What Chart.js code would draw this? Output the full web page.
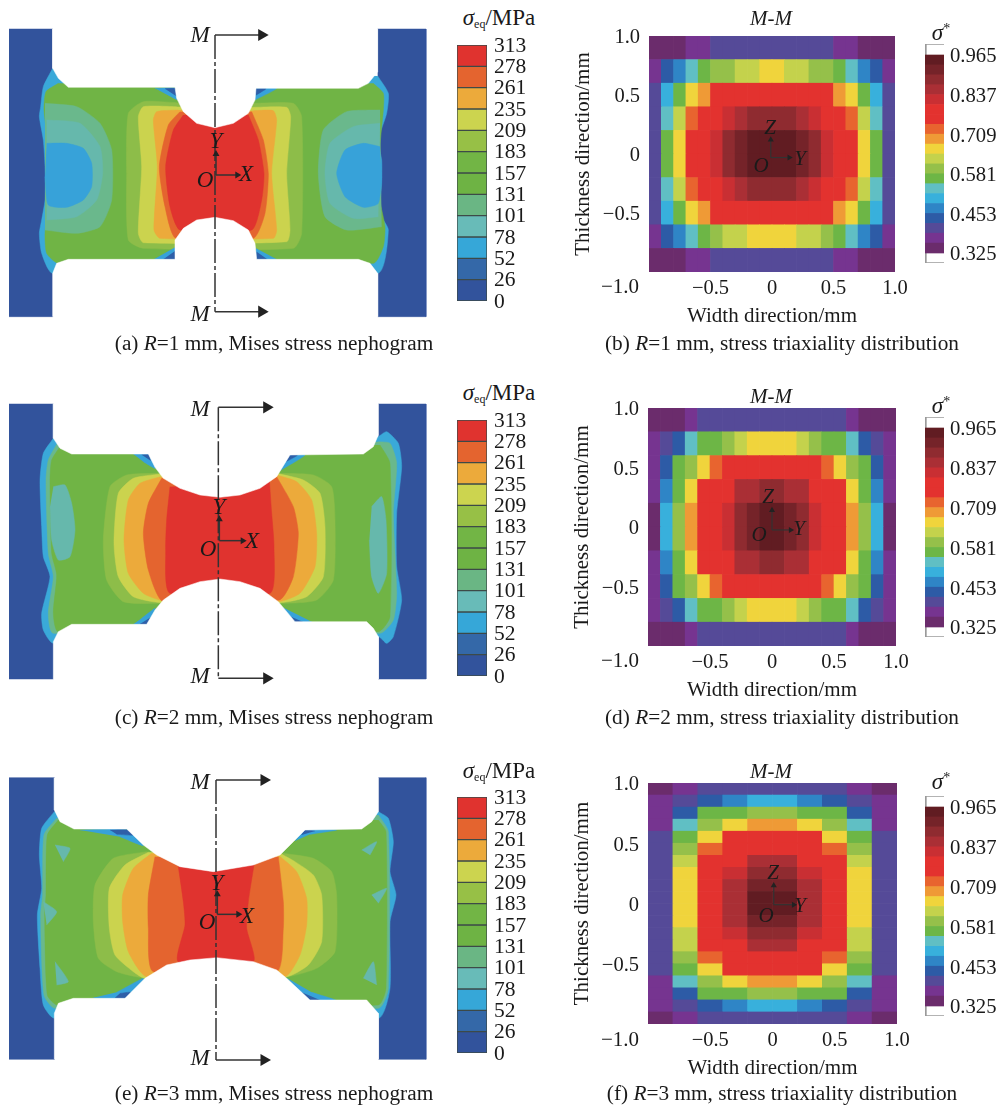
<!DOCTYPE html>
<html>
<head>
<meta charset="utf-8">
<script src="https://cdn.jsdelivr.net/npm/chart.js@4"></script>
<style>
  html, body { margin: 0; padding: 0; background: #fff; }
  #page { position: relative; width: 1002px; height: 1113px; overflow: hidden; font-family: "Liberation Serif", serif; color: #1a1a1a; }
  canvas { position: absolute; filter: blur(0.4px); }
  .note { position: absolute; transform: translate(-50%, -50%); white-space: nowrap; font-size: 21px; line-height: 1; }
  .cap { font-size: 21.3px; }
  .big { font-size: 23px; }
  .note sub { font-size: 12px; vertical-align: -3px; line-height: 0; }
  .note sup { font-size: 14px; vertical-align: 7px; line-height: 0; }
</style>
</head>
<body>
<div id="page"></div>
<script>
// legend of the Mises panels, top band first
const stressTicks = [313, 278, 261, 235, 209, 183, 157, 131, 101, 78, 52, 26, 0];
const stressColours = ['#e0332f', '#e4642f', '#ecaa3b', '#ccd44f', '#97c046', '#72b545', '#6eb344', '#6ab684', '#68bbb8', '#36a7d8', '#3468a8', '#32539c'];

// sigma* colour bar, low to high
const triaxEdges = [0.325, 0.357, 0.389, 0.421, 0.453, 0.485, 0.517, 0.549, 0.581, 0.613, 0.645, 0.677, 0.709, 0.741, 0.773, 0.805, 0.837, 0.869, 0.901, 0.933, 0.965];
const triaxColours = ['#6b2c6c', '#763490', '#554a98', '#2d5ba6', '#2f85c6', '#38b0dc', '#60bfc4', '#6db646', '#95c04a', '#c4d24c', '#f0d43c', '#ef9a36', '#e8642f', '#e3322f', '#e3322f', '#c92f33', '#aa2f35', '#8f2b30', '#752329', '#611c22'];
const triaxTicks = [0.965, 0.837, 0.709, 0.581, 0.453, 0.325];
const axisTicks = [-1, -0.5, 0, 0.5, 1];

// stress triaxiality on section M-M, top row first
const triaxR1 = [
  [.34,.34,.34,.37,.37,.41,.41,.41,.41,.41,.41,.41,.41,.41,.41,.37,.37,.34,.34,.34],
  [.37,.44,.47,.53,.57,.60,.60,.63,.63,.66,.66,.63,.63,.60,.60,.57,.53,.47,.44,.37],
  [.41,.50,.57,.66,.69,.76,.76,.76,.76,.76,.76,.76,.76,.76,.76,.69,.66,.57,.50,.41],
  [.41,.53,.63,.73,.76,.76,.82,.85,.89,.89,.89,.89,.85,.82,.76,.76,.73,.63,.53,.41],
  [.41,.57,.66,.76,.76,.82,.89,.92,.95,.95,.95,.95,.92,.89,.82,.76,.76,.66,.57,.41],
  [.41,.57,.66,.76,.76,.82,.89,.92,.95,.95,.95,.95,.92,.89,.82,.76,.76,.66,.57,.41],
  [.41,.53,.63,.73,.76,.76,.82,.85,.89,.89,.89,.89,.85,.82,.76,.76,.73,.63,.53,.41],
  [.41,.50,.57,.66,.69,.76,.76,.76,.76,.76,.76,.76,.76,.76,.76,.69,.66,.57,.50,.41],
  [.37,.44,.47,.53,.57,.60,.63,.63,.66,.66,.66,.66,.63,.63,.60,.57,.53,.47,.44,.37],
  [.34,.34,.34,.37,.37,.41,.41,.41,.41,.41,.41,.41,.41,.41,.41,.37,.37,.34,.34,.34]
];
const triaxR2 = [
  [.34,.34,.34,.37,.41,.41,.41,.41,.41,.41,.41,.41,.41,.41,.41,.41,.37,.34,.34,.34],
  [.37,.41,.44,.53,.57,.57,.60,.63,.66,.66,.66,.66,.63,.60,.57,.57,.53,.44,.41,.37],
  [.37,.44,.57,.60,.66,.73,.76,.76,.76,.76,.76,.76,.76,.76,.73,.66,.60,.57,.44,.37],
  [.37,.47,.57,.66,.76,.76,.76,.85,.85,.89,.89,.85,.85,.76,.76,.76,.66,.57,.47,.37],
  [.34,.50,.60,.69,.76,.76,.82,.89,.92,.95,.95,.92,.89,.82,.76,.76,.69,.60,.50,.34],
  [.34,.50,.60,.69,.76,.76,.82,.89,.92,.95,.95,.92,.89,.82,.76,.76,.69,.60,.50,.34],
  [.37,.47,.57,.66,.76,.76,.76,.85,.85,.89,.89,.85,.85,.76,.76,.76,.66,.57,.47,.37],
  [.37,.44,.57,.60,.66,.73,.76,.76,.76,.76,.76,.76,.76,.76,.73,.66,.60,.57,.44,.37],
  [.37,.41,.44,.53,.57,.57,.60,.63,.66,.66,.66,.66,.63,.60,.57,.57,.53,.44,.41,.37],
  [.34,.34,.34,.37,.41,.41,.41,.41,.41,.41,.41,.41,.41,.41,.41,.41,.37,.34,.34,.34]
];
const triaxR3 = [
  [.34,.37,.41,.41,.41,.41,.41,.41,.37,.34],
  [.37,.41,.44,.47,.50,.50,.47,.44,.41,.37],
  [.37,.44,.57,.57,.60,.60,.57,.57,.44,.37],
  [.37,.53,.60,.66,.69,.69,.66,.60,.53,.37],
  [.41,.57,.66,.76,.76,.76,.76,.66,.57,.41],
  [.41,.60,.73,.76,.76,.76,.76,.73,.60,.41],
  [.41,.63,.76,.76,.85,.85,.76,.76,.63,.41],
  [.41,.66,.76,.82,.89,.89,.82,.76,.66,.41],
  [.41,.66,.76,.85,.92,.92,.85,.76,.66,.41],
  [.41,.66,.76,.85,.95,.95,.85,.76,.66,.41],
  [.41,.66,.76,.85,.95,.95,.85,.76,.66,.41],
  [.41,.66,.76,.85,.92,.92,.85,.76,.66,.41],
  [.41,.63,.76,.82,.89,.89,.82,.76,.63,.41],
  [.41,.63,.76,.76,.85,.85,.76,.76,.63,.41],
  [.41,.60,.73,.76,.76,.76,.76,.73,.60,.41],
  [.41,.57,.66,.76,.76,.76,.76,.66,.57,.41],
  [.37,.53,.60,.66,.69,.69,.66,.60,.53,.37],
  [.37,.44,.57,.57,.60,.60,.57,.57,.44,.37],
  [.37,.41,.44,.47,.50,.50,.47,.44,.41,.37],
  [.34,.37,.41,.41,.41,.41,.41,.41,.37,.34]
];

const GRIP = '#32539c', CYAN = '#3aa9d9', MINT = '#6ab88c', TEAL = '#66b8ac', SKY = '#37a2d9', NAVY = '#2f5fa8';
const GREEN = '#70b445', OLIVE = '#8dbd49', LIME = '#cbd34e', ORANGE = '#ecaa3b', RUST = '#e4642f', RED = '#e0332f', WHITE = '#ffffff';

// R=1 contours
const r1GripLeft = [[27,87],[158,87],[158,950],[27,950]];
const r1GripRight = [[1133,87],[1278,87],[1278,950],[1133,950]];
const r1Fringe = [[158,205],[130,260],[122,320],[118,350],[130,420],[135,500],[135,600],[125,660],[118,700],[125,760],[158,820],[1133,820],[1165,690],[1140,640],[1145,550],[1145,480],[1135,420],[1160,340],[1165,280],[1133,228]];
const r1Green = [[175,250],[138,275],[132,330],[145,440],[145,600],[135,700],[140,760],[175,790],[1120,790],[1150,740],[1155,680],[1140,600],[1140,440],[1150,330],[1150,280],[1120,250]];
const r1MintL = [[135,310],[230,320],[300,370],[335,450],[335,600],[300,680],[230,700],[135,690]];
const r1TealL = [[140,360],[240,370],[300,440],[308,520],[290,600],[230,650],[140,660]];
const r1SkyL = [[140,430],[200,430],[250,445],[275,490],[275,560],[250,600],[200,622],[145,615],[135,530]];
const r1MintR = [[1140,330],[1040,335],[970,390],[955,520],[975,650],[1040,690],[1145,680]];
const r1TealR = [[1140,370],[1060,380],[990,430],[975,520],[990,610],[1060,655],[1135,650]];
const r1SkyR = [[1140,440],[1090,430],[1035,450],[1010,520],[1035,590],[1090,622],[1135,610],[1145,530]];
const r1Olive = [[530,308],[430,305],[385,340],[380,520],[385,720],[430,745],[880,745],[905,700],[905,350],[880,310],[760,310]];
const r1Lime = [[530,320],[430,320],[415,350],[425,500],[415,700],[430,728],[860,725],[870,690],[860,520],[872,350],[860,322],[760,322]];
const r1Orange = [[535,330],[470,335],[460,360],[472,500],[462,690],[480,715],[820,715],[830,690],[815,520],[830,360],[820,332],[760,332]];
const r1Rust = [[540,335],[505,375],[478,500],[495,620],[528,715],[760,715],[795,640],[805,520],[790,420],[755,335]];
const r1Red = [[550,345],[520,390],[497,500],[510,620],[540,690],[755,690],[785,600],[792,520],[775,420],[745,345]];
const r1WedgeA = [[465,265],[530,265],[530,300]];
const r1WedgeB = [[462,778],[528,778],[528,740]];
const r1WedgeC = [[765,265],[830,265],[765,300]];
const r1WedgeD = [[768,745],[768,778],[830,778]];
const r1CoreA = [[495,266],[528,266],[528,288]];
const r1CoreB = [[490,778],[526,778],[526,752]];
const r1CoreC = [[767,266],[798,266],[767,286]];
const r1CoreD = [[770,755],[770,778],[802,778]];
const r1WhiteTop = [[158,87],[158,205],[175,235],[205,262],[525,262],[530,295],[550,335],[590,370],[645,383],[700,370],[745,340],[765,300],[768,265],[1075,265],[1105,250],[1133,215],[1133,87]];
const r1WhiteBottom = [[158,950],[158,820],[170,790],[205,778],[525,778],[525,720],[550,685],[590,660],[645,652],[700,662],[745,690],[765,730],[770,778],[1075,778],[1110,790],[1133,820],[1133,950]];
const r1Section = [[645,105],[645,935]];
const r1ArrowTop = [[645,105],[785,105]];
const r1ArrowBottom = [[645,935],[785,935]];
const r1AxisY = [[648,525],[648,462]];
const r1AxisX = [[648,525],[712,525]];

// R=2 contours
const r2GripLeft = [[27,72],[160,72],[160,897],[27,897]];
const r2GripRight = [[1135,72],[1278,72],[1278,897],[1135,897]];
const r2Fringe = [[160,175],[130,220],[120,300],[125,440],[130,530],[150,590],[125,700],[130,750],[160,790],[1135,770],[1160,790],[1180,770],[1205,660],[1190,560],[1190,400],[1205,260],[1195,190],[1160,155],[1135,170]];
const r2Mint = [[172,190],[145,240],[138,300],[145,520],[160,590],[145,700],[160,760],[1140,760],[1180,720],[1190,640],[1180,400],[1190,250],[1170,190],[1135,185]];
const r2Green = [[180,200],[155,240],[150,300],[155,520],[170,585],[160,700],[175,755],[1135,755],[1170,710],[1170,250],[1140,195]];
const r2TealL = [[160,320],[195,315],[215,370],[225,450],[210,530],[175,540],[155,480],[150,380]];
const r2TealR = [[1115,380],[1145,350],[1158,420],[1160,580],[1135,640],[1115,590],[1108,480]];
const r2Olive = [[470,280],[380,285],[330,320],[310,480],[320,600],[370,665],[480,670],[850,670],[950,660],[1000,600],[1005,420],[995,320],[940,285],[830,280]];
const r2Lime = [[480,282],[400,295],[355,340],[342,490],[355,590],[400,650],[485,668],[840,668],[920,650],[970,590],[975,440],[960,340],[910,300],[830,280]];
const r2Orange = [[482,290],[420,310],[385,360],[372,480],[385,580],[430,640],[490,662],[835,665],[900,640],[945,560],[950,460],[935,360],[890,305],[830,285]];
const r2Rust = [[485,295],[445,370],[430,460],[445,570],[490,665],[838,660],[880,590],[895,460],[880,380],[830,290]];
const r2Red = [[510,320],[500,420],[497,510],[510,640],[810,640],[822,500],[815,400],[808,300]];
const r2WedgeA = [[400,222],[447,222],[466,265],[430,245]];
const r2WedgeB = [[400,733],[440,733],[466,685],[425,715]];
const r2WedgeC = [[865,225],[915,225],[840,272]];
const r2WedgeD = [[845,680],[885,725],[935,725]];
const r2CoreA = [[425,224],[447,224],[452,242]];
const r2CoreB = [[420,732],[442,732],[452,712]];
const r2CoreC = [[868,226],[892,226],[858,245]];
const r2CoreD = [[868,708],[885,725],[908,725]];
const r2WhiteTop = [[160,72],[160,175],[180,205],[215,222],[445,222],[465,262],[490,295],[540,325],[600,345],[660,352],[720,345],[780,325],[830,290],[870,225],[1090,222],[1120,200],[1135,165],[1135,72]];
const r2WhiteBottom = [[160,897],[160,785],[175,755],[215,733],[440,733],[465,690],[490,660],[540,625],[600,605],[660,597],[720,605],[780,625],[835,665],[885,725],[1100,725],[1120,745],[1135,770],[1135,897]];
const r2Section = [[655,82],[655,895]];
const r2ArrowTop = [[655,82],[800,82]];
const r2ArrowBottom = [[655,895],[800,895]];
const r2AxisY = [[658,482],[658,418]];
const r2AxisX = [[658,482],[728,482]];

// R=3 contours
const r3GripLeft = [[27,68],[163,68],[163,913],[27,913]];
const r3GripRight = [[1135,68],[1278,68],[1278,913],[1135,913]];
const r3Fringe = [[163,170],[125,220],[118,300],[125,400],[112,480],[120,640],[130,750],[163,790],[1135,790],[1170,700],[1170,500],[1188,420],[1170,350],[1180,260],[1165,190],[1135,170]];
const r3Mint = [[170,190],[132,240],[128,420],[122,480],[132,720],[165,760],[1135,760],[1165,700],[1165,230],[1135,180]];
const r3Green = [[175,195],[142,240],[138,420],[134,480],[142,720],[172,750],[1135,750],[1158,700],[1158,230],[1135,195]];
const r3SpotA = [[165,270],[210,280],[190,320]];
const r3SpotB = [[130,440],[170,470],[140,510]];
const r3SpotC = [[165,620],[205,680],[170,690]];
const r3SpotD = [[1085,285],[1130,260],[1110,300]];
const r3SpotE = [[1115,420],[1160,400],[1135,445]];
const r3SpotF = [[1090,670],[1120,620],[1130,690]];
const r3BandA = [[240,225],[385,225],[430,272],[360,245]];
const r3BandB = [[280,728],[375,732],[435,668],[350,712]];
const r3BandC = [[885,258],[915,225],[1010,225],[930,238]];
const r3BandD = [[860,668],[930,737],[1010,737],[935,712]];
const r3WedgeA = [[330,225],[385,225],[400,240],[350,238]];
const r3WedgeB = [[345,728],[375,730],[392,712],[360,715]];
const r3WedgeC = [[905,240],[915,225],[945,228]];
const r3WedgeD = [[905,712],[930,737],[965,737]];
const r3Olive = [[440,290],[340,310],[285,390],[280,500],[295,610],[350,650],[430,668],[860,665],[950,640],[1005,590],[1010,420],[995,350],[940,310],[850,295]];
const r3Lime = [[445,292],[375,330],[328,400],[328,520],[345,600],[400,650],[435,670],[860,665],[925,630],[965,560],[965,420],[940,360],[885,320],[840,295]];
const r3Orange = [[455,295],[400,340],[368,420],[368,500],[385,590],[440,665],[855,665],[900,600],[920,510],[920,430],[890,350],[835,300]];
const r3Rust = [[465,305],[445,420],[445,520],[460,650],[830,650],[850,520],[850,440],[835,305]];
const r3Red = [[535,335],[550,440],[555,510],[535,620],[760,620],[740,520],[745,440],[762,330]];
const r3WhiteTop = [[163,68],[163,165],[180,200],[222,222],[380,222],[430,270],[470,300],[540,335],[640,350],[760,330],[840,300],[880,260],[915,225],[1085,222],[1115,200],[1135,170],[1135,68]];
const r3WhiteBottom = [[163,913],[163,775],[175,745],[220,730],[375,730],[435,670],[500,630],[570,615],[650,608],[760,620],[830,645],[860,670],[930,735],[1100,735],[1135,775],[1135,913]];
const r3Section = [[648,75],[648,915]];
const r3ArrowTop = [[648,75],[792,75]];
const r3ArrowBottom = [[648,915],[792,915]];
const r3AxisY = [[652,478],[652,418]];
const r3AxisX = [[652,478],[715,478]];

// local section axes in the triaxiality maps, in mm
const originR1 = [[-0.01, -0.03], [-0.01, 0.12]];
const widthR1 = [[-0.01, -0.03], [0.14, -0.03]];
const originR2 = [[0.0, -0.025], [0.0, 0.14]];
const widthR2 = [[0.0, -0.025], [0.15, -0.025]];
const originR3 = [[0.01, -0.01], [0.01, 0.15]];
const widthR3 = [[0.01, -0.01], [0.17, -0.01]];

const page = document.getElementById('page');
const serif = '"Liberation Serif", serif';

function note(html, x, y, cls) {
  const el = document.createElement('div');
  el.className = 'note' + (cls ? ' ' + cls : '');
  el.innerHTML = html;
  el.style.left = x + 'px';
  el.style.top = y + 'px';
  page.appendChild(el);
}

function addCanvas(x, y, w, h) {
  const c = document.createElement('canvas');
  c.width = w;
  c.height = h;
  c.style.left = x + 'px';
  c.style.top = y + 'px';
  c.style.width = w + 'px';
  c.style.height = h + 'px';
  page.appendChild(c);
  return c.getContext('2d');
}

const quiet = { legend: { display: false }, tooltip: { enabled: false }, title: { display: false } };

function shape(colour, points) {
  return {
    data: points, showLine: true, fill: 'shape', backgroundColor: colour,
    borderColor: colour, borderWidth: 0.5, pointRadius: 0,
    tension: colour === WHITE || colour === GRIP ? 0 : 0.2
  };
}

function stroke(points, head, rotation, dash) {
  return {
    data: points, showLine: true, fill: false, borderColor: '#333', borderWidth: 1.5,
    borderDash: dash || [], pointRadius: head ? [0, head] : 0, pointStyle: 'triangle',
    pointRotation: rotation || 0, pointBackgroundColor: '#222', pointBorderWidth: 0
  };
}

function nephogram(x, y, w, h, layers) {
  // first layer is painted first, so reverse: Chart.js paints the last dataset first
  new Chart(addCanvas(x, y, w, h), {
    type: 'scatter',
    data: { datasets: layers.slice().reverse() },
    options: {
      responsive: false, animation: false, layout: { padding: 0, autoPadding: false }, plugins: quiet,
      scales: {
        x: { display: false, min: 0, max: w * 3 },
        y: { display: false, min: 0, max: h * 3, reverse: true }
      }
    }
  });
}

function bandColour(v) {
  for (let i = 0; i < triaxColours.length; i++) {
    if (v < triaxEdges[i + 1]) return triaxColours[i];
  }
  return triaxColours[triaxColours.length - 1];
}

function gridCells(grid) {
  const cells = [];
  const rows = grid.length, cols = grid[0].length;
  grid.forEach((row, r) => row.forEach((v, c) => {
    const top = 1 - r * 2 / rows;
    cells.push({ x: -1 + (c + 0.5) * 2 / cols, y: [top - 2 / rows, top], v: v });
  }));
  return cells;
}

function tickText(v) {
  if (v === 0) return '0';
  return (v < 0 ? '\u2212' : '') + Math.abs(v).toFixed(1);
}

// tick labels may overhang the chart area here, the canvas keeps room for them
function noOverhang(s) {
  s.paddingTop = 0;
  s.paddingBottom = 0;
  s.paddingLeft = 0;
  s.paddingRight = 0;
}

function triaxMap(plotLeft, plotTop, plotW, plotH, grid, axisZ, axisY) {
  const padLeft = 78, padTop = 12, below = 58, padRight = 24;
  const cells = gridCells(grid);
  new Chart(addCanvas(plotLeft - padLeft, plotTop - padTop, plotW + padLeft + padRight, plotH + padTop + below), {
    type: 'bar',
    data: {
      datasets: [
        { type: 'line', data: axisZ, order: 0, borderColor: '#333', borderWidth: 1.2, pointRadius: [0, 3.5], pointStyle: 'triangle', pointRotation: 0, pointBackgroundColor: '#222', pointBorderWidth: 0, fill: false },
        { type: 'line', data: axisY, order: 0, borderColor: '#333', borderWidth: 1.2, pointRadius: [0, 3.5], pointStyle: 'triangle', pointRotation: 90, pointBackgroundColor: '#222', pointBorderWidth: 0, fill: false },
        { type: 'bar', data: cells, order: 1, backgroundColor: cells.map(c => bandColour(c.v)), barPercentage: 1, categoryPercentage: 1, borderWidth: 0 }
      ]
    },
    options: {
      responsive: false, animation: false, layout: { padding: { top: padTop, right: padRight }, autoPadding: false }, plugins: quiet,
      scales: {
        x: {
          type: 'linear', offset: false, min: -1, max: 1,
          afterFit: s => { s.height = below; noOverhang(s); },
          afterBuildTicks: s => { s.ticks = axisTicks.map(v => ({ value: v })); },
          grid: { display: false, drawTicks: false }, border: { display: false },
          ticks: { autoSkip: false, maxRotation: 0, padding: 4, color: '#1a1a1a', font: { family: serif, size: 20.5 }, callback: v => v === -1 ? '' : tickText(v) },
          title: { display: true, text: 'Width direction/mm', color: '#1a1a1a', font: { family: serif, size: 21 }, padding: { top: 0, bottom: 1 } }
        },
        y: {
          min: -1, max: 1,
          afterFit: s => { s.width = padLeft; noOverhang(s); },
          afterBuildTicks: s => { s.ticks = axisTicks.map(v => ({ value: v })); },
          grid: { display: false, drawTicks: false }, border: { display: false },
          ticks: { autoSkip: false, padding: 9, labelOffset: 2, color: '#1a1a1a', font: { family: serif, size: 20.5 }, callback: v => v === -1 ? '' : tickText(v) },
          title: { display: true, text: 'Thickness direction/mm', color: '#1a1a1a', font: { family: serif, size: 21 }, padding: { top: 0, bottom: 0 } }
        }
      }
    }
  });
}

function stressLegend(x, top, bottom) {
  const n = stressColours.length;
  const padTop = 12;
  const w = 85;
  new Chart(addCanvas(x, top - padTop, w, bottom - top + padTop * 2), {
    type: 'bar',
    data: {
      labels: ['stress'],
      datasets: stressColours.map((c, i) => ({
        data: [[n - 1 - i, n - i]], backgroundColor: c, borderColor: '#3d4a48', borderWidth: 1, borderSkipped: false,
        barPercentage: 1, categoryPercentage: 1, grouped: false
      }))
    },
    options: {
      responsive: false, animation: false, layout: { padding: { top: padTop, bottom: padTop }, autoPadding: false }, plugins: quiet,
      scales: {
        x: { display: false, stacked: true },
        y: {
          position: 'right', min: 0, max: n, afterFit: s => { s.width = w - 30; noOverhang(s); },
          afterBuildTicks: s => { s.ticks = stressTicks.map((t, i) => ({ value: n - i })); },
          grid: { display: false, drawTicks: false }, border: { display: false },
          ticks: { autoSkip: false, padding: 7, labelOffset: 1, color: '#1a1a1a', font: { family: serif, size: 21.5 }, callback: v => String(stressTicks[n - v]) }
        }
      }
    }
  });
}

function triaxBar(x, top, scaleTop, scaleBottom, bottom) {
  const perUnit = (scaleBottom - scaleTop) / (0.965 - 0.325);
  const lo = 0.325 - (bottom - scaleBottom) / perUnit;
  const hi = 0.965 + (scaleTop - top) / perUnit;
  const padTop = 12, w = 77;
  new Chart(addCanvas(x, top - padTop, w, bottom - top + padTop * 2), {
    type: 'bar',
    data: {
      labels: ['triaxiality'],
      datasets: [{ data: [[lo, hi]], backgroundColor: '#ffffff', borderColor: '#9a9a9a', borderWidth: { left: 2, top: 1, bottom: 1, right: 0 }, borderSkipped: false, barPercentage: 1, categoryPercentage: 1, grouped: false, order: 5 }]
        .concat(triaxColours.map((c, i) => ({
          data: [[triaxEdges[i], triaxEdges[i + 1]]], backgroundColor: c, barPercentage: 1, categoryPercentage: 1, grouped: false, order: 1
        })))
    },
    options: {
      responsive: false, animation: false, layout: { padding: { top: padTop, bottom: padTop }, autoPadding: false }, plugins: quiet,
      scales: {
        x: { display: false, stacked: true },
        y: {
          position: 'right', min: lo, max: hi, afterFit: s => { s.width = w - 19; noOverhang(s); },
          afterBuildTicks: s => { s.ticks = triaxTicks.map(v => ({ value: v })); },
          grid: { display: false, drawTicks: false }, border: { display: false },
          ticks: { autoSkip: false, padding: 6, labelOffset: 2, color: '#1a1a1a', font: { family: serif, size: 20.7 }, callback: v => v.toFixed(3) }
        }
      }
    }
  });
}

// left column
nephogram(0, 0, 450, 360, [
  shape(GRIP, r1GripLeft), shape(GRIP, r1GripRight), shape(CYAN, r1Fringe), shape(GREEN, r1Green),
  shape(MINT, r1MintL), shape(TEAL, r1TealL), shape(SKY, r1SkyL), shape(MINT, r1MintR), shape(TEAL, r1TealR), shape(SKY, r1SkyR),
  shape(OLIVE, r1Olive), shape(LIME, r1Lime), shape(ORANGE, r1Orange), shape(RUST, r1Rust), shape(RED, r1Red),
  shape(SKY, r1WedgeA), shape(SKY, r1WedgeB), shape(SKY, r1WedgeC), shape(SKY, r1WedgeD),
  shape(NAVY, r1CoreA), shape(NAVY, r1CoreB), shape(NAVY, r1CoreC), shape(NAVY, r1CoreD),
  shape(WHITE, r1WhiteTop), shape(WHITE, r1WhiteBottom),
  stroke(r1Section, 0, 0, [24, 3, 4, 3]), stroke(r1ArrowTop, 7, 90), stroke(r1ArrowBottom, 7, 90),
  stroke(r1AxisY, 4, 0), stroke(r1AxisX, 4, 90)
]);
nephogram(0, 380, 450, 340, [
  shape(GRIP, r2GripLeft), shape(GRIP, r2GripRight), shape(CYAN, r2Fringe), shape(MINT, r2Mint), shape(GREEN, r2Green),
  shape(TEAL, r2TealL), shape(TEAL, r2TealR),
  shape(OLIVE, r2Olive), shape(LIME, r2Lime), shape(ORANGE, r2Orange), shape(RUST, r2Rust), shape(RED, r2Red),
  shape(SKY, r2WedgeA), shape(SKY, r2WedgeB), shape(SKY, r2WedgeC), shape(SKY, r2WedgeD),
  shape(NAVY, r2CoreA), shape(NAVY, r2CoreB), shape(NAVY, r2CoreC), shape(NAVY, r2CoreD),
  shape(WHITE, r2WhiteTop), shape(WHITE, r2WhiteBottom),
  stroke(r2Section, 0, 0, [24, 3, 4, 3]), stroke(r2ArrowTop, 7, 90), stroke(r2ArrowBottom, 7, 90),
  stroke(r2AxisY, 4, 0), stroke(r2AxisX, 4, 90)
]);
nephogram(0, 755, 450, 340, [
  shape(GRIP, r3GripLeft), shape(GRIP, r3GripRight), shape(CYAN, r3Fringe), shape(MINT, r3Mint), shape(GREEN, r3Green),
  shape(TEAL, r3SpotA), shape(TEAL, r3SpotB), shape(TEAL, r3SpotC), shape(TEAL, r3SpotD), shape(TEAL, r3SpotE), shape(TEAL, r3SpotF),
  shape(SKY, r3BandA), shape(SKY, r3BandB), shape(SKY, r3BandC), shape(SKY, r3BandD),
  shape(NAVY, r3WedgeA), shape(NAVY, r3WedgeB), shape(NAVY, r3WedgeC), shape(NAVY, r3WedgeD),
  shape(OLIVE, r3Olive), shape(LIME, r3Lime), shape(ORANGE, r3Orange), shape(RUST, r3Rust), shape(RED, r3Red),
  shape(WHITE, r3WhiteTop), shape(WHITE, r3WhiteBottom),
  stroke(r3Section, 0, 0, [24, 3, 4, 3]), stroke(r3ArrowTop, 7, 90), stroke(r3ArrowBottom, 7, 90),
  stroke(r3AxisY, 4, 0), stroke(r3AxisX, 4, 90)
]);

// legends
stressLegend(457, 45, 301);
stressLegend(457, 420, 676);
stressLegend(457, 797, 1053);
triaxBar(925, 44, 55, 253, 263);
triaxBar(925, 417, 428, 627, 637);
triaxBar(925, 796, 807, 1006, 1016);

// section maps
triaxMap(649, 36, 246, 236, triaxR1, originR1, widthR1);
triaxMap(648, 408, 248, 238, triaxR2, originR2, widthR2);
triaxMap(648, 783, 249, 241, triaxR3, originR3, widthR3);

// text on top of the charts
const sigmaEq = '<i>\u03c3</i><sub>eq</sub>/MPa';
const sigmaStar = '<i>\u03c3</i><sup>*</sup>';
note(sigmaEq, 499, 17, 'big'); note(sigmaEq, 499, 392, 'big'); note(sigmaEq, 499, 770, 'big');
note(sigmaStar, 941, 32, 'big'); note(sigmaStar, 941, 405, 'big'); note(sigmaStar, 941, 781, 'big');
note('<i>M-M</i>', 771, 18); note('<i>M-M</i>', 771, 396); note('<i>M-M</i>', 771, 771);
note('\u22121.0', 620, 286); note('\u22121.0', 620, 660); note('\u22121.0', 620, 1039);

note('(a) <i>R</i>=1 mm, Mises stress nephogram', 274, 344, 'cap');
note('(b) <i>R</i>=1 mm, stress triaxiality distribution', 782, 344, 'cap');
note('(c) <i>R</i>=2 mm, Mises stress nephogram', 274, 718, 'cap');
note('(d) <i>R</i>=2 mm, stress triaxiality distribution', 782, 718, 'cap');
note('(e) <i>R</i>=3 mm, Mises stress nephogram', 274, 1094, 'cap');
note('(f) <i>R</i>=3 mm, stress triaxiality distribution', 782, 1094, 'cap');

[
  ['M', 200, 34], ['M', 200, 313], ['Y', 216, 140], ['O', 205, 179], ['X', 246, 173],
  ['M', 200, 408], ['M', 200, 675], ['Y', 219, 506], ['O', 208, 548], ['X', 252, 540],
  ['M', 200, 781], ['M', 200, 1057], ['Y', 217, 882], ['O', 207, 921], ['X', 247, 915]
].forEach(t => note('<i>' + t[0] + '</i>', t[1], t[2], 'big'));
[
  ['Z', 770, 127], ['O', 761, 165], ['Y', 800, 158],
  ['Z', 768, 496], ['O', 759, 534], ['Y', 799, 528],
  ['Z', 773, 872], ['O', 766, 915], ['Y', 800, 905]
].forEach(t => note('<i>' + t[0] + '</i>', t[1], t[2]));
</script>
</body>
</html>
